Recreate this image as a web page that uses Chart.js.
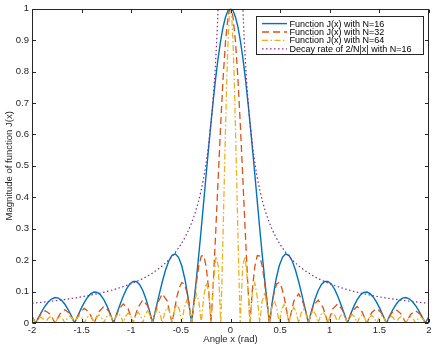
<!DOCTYPE html>
<html>
<head>
<meta charset="utf-8">
<script src="https://cdn.jsdelivr.net/npm/chart.js"></script>
<style>
  body { margin: 0; background: #fff; }
  #wrap { width: 436px; height: 347px; position: relative; }
</style>
</head>
<body>
<div id="wrap"><canvas id="myChart"></canvas></div>
<script>
// angles (rad) and magnitudes
const angles16 = [
  -2,
  -1.9635, -1.9308, -1.898, -1.8653, -1.8326, -1.7999, -1.7671, -1.7344, -1.7017, -1.669, -1.6362, -1.6035,
  -1.5708, -1.5381, -1.5053, -1.4726, -1.4399, -1.4072, -1.3744, -1.3417, -1.309, -1.2763, -1.2435, -1.2108,
  -1.1781, -1.1454, -1.1126, -1.0799, -1.0472, -1.0145, -0.9817, -0.949, -0.9163, -0.8836, -0.8508, -0.8181,
  -0.7854, -0.7527, -0.7199, -0.6872, -0.6545, -0.6218, -0.589, -0.5563, -0.5236, -0.4909, -0.4581, -0.4254,
  -0.3927, -0.375, -0.35, -0.325, -0.3, -0.275, -0.25, -0.225, -0.2, -0.175, -0.15, -0.125, -0.1, -0.075, -0.05, -0.025,
  0,
  0.025, 0.05, 0.075, 0.1, 0.125, 0.15, 0.175, 0.2, 0.225, 0.25, 0.275, 0.3, 0.325, 0.35, 0.375, 0.3927,
  0.4254, 0.4581, 0.4909, 0.5236, 0.5563, 0.589, 0.6218, 0.6545, 0.6872, 0.7199, 0.7527, 0.7854,
  0.8181, 0.8508, 0.8836, 0.9163, 0.949, 0.9817, 1.0145, 1.0472, 1.0799, 1.1126, 1.1454, 1.1781,
  1.2108, 1.2435, 1.2763, 1.309, 1.3417, 1.3744, 1.4072, 1.4399, 1.4726, 1.5053, 1.5381, 1.5708,
  1.6035, 1.6362, 1.669, 1.7017, 1.7344, 1.7671, 1.7999, 1.8326, 1.8653, 1.898, 1.9308, 1.9635,
  2
];
const mag16 = [
  0.0214,
  0, 0.0197, 0.0385, 0.055, 0.0682, 0.0771, 0.0809, 0.0792, 0.072, 0.0596, 0.0428, 0.0225,
  0, 0.0233, 0.0457, 0.0658, 0.0821, 0.0933, 0.0985, 0.0971, 0.0889, 0.0742, 0.0536, 0.0284,
  0, 0.0299, 0.0592, 0.086, 0.1083, 0.1243, 0.1325, 0.1321, 0.1224, 0.1034, 0.0757, 0.0407,
  0, 0.044, 0.0887, 0.1312, 0.1684, 0.1974, 0.2153, 0.2198, 0.2091, 0.1819, 0.1376, 0.0766,
  0, 0.0473, 0.1203, 0.1991, 0.2825, 0.3687, 0.4558, 0.5422, 0.6258, 0.7048, 0.7774, 0.8421, 0.8971, 0.9413, 0.9737, 0.9934,
  1,
  0.9934, 0.9737, 0.9413, 0.8971, 0.8421, 0.7774, 0.7048, 0.6258, 0.5422, 0.4558, 0.3687, 0.2825, 0.1991, 0.1203, 0.0473, 0,
  0.0766, 0.1376, 0.1819, 0.2091, 0.2198, 0.2153, 0.1974, 0.1684, 0.1312, 0.0887, 0.044, 0,
  0.0407, 0.0757, 0.1034, 0.1224, 0.1321, 0.1325, 0.1243, 0.1083, 0.086, 0.0592, 0.0299, 0,
  0.0284, 0.0536, 0.0742, 0.0889, 0.0971, 0.0985, 0.0933, 0.0821, 0.0658, 0.0457, 0.0233, 0,
  0.0225, 0.0428, 0.0596, 0.072, 0.0792, 0.0809, 0.0771, 0.0682, 0.055, 0.0385, 0.0197, 0,
  0.0214
];

const angles32 = [
  -2,
  -1.9635, -1.9144, -1.8653, -1.8162,
  -1.7671, -1.7181, -1.669, -1.6199,
  -1.5708, -1.5217, -1.4726, -1.4235,
  -1.3744, -1.3254, -1.2763, -1.2272,
  -1.1781, -1.129, -1.0799, -1.0308,
  -0.9817, -0.9327, -0.8836, -0.8345,
  -0.7854, -0.7363, -0.6872, -0.6381,
  -0.589, -0.5645, -0.54, -0.5154, -0.4909, -0.4663, -0.4418, -0.4172,
  -0.3927, -0.3681, -0.3436, -0.3191, -0.2945, -0.27, -0.2454, -0.2209,
  -0.1963, -0.175, -0.15, -0.125, -0.1, -0.075, -0.05, -0.025, -0.0125,
  0,
  0.0125, 0.025, 0.05, 0.075, 0.1, 0.125, 0.15, 0.175, 0.1963,
  0.2209, 0.2454, 0.27, 0.2945, 0.3191, 0.3436, 0.3681, 0.3927,
  0.4172, 0.4418, 0.4663, 0.4909, 0.5154, 0.54, 0.5645, 0.589,
  0.6381, 0.6872, 0.7363, 0.7854,
  0.8345, 0.8836, 0.9327, 0.9817,
  1.0308, 1.0799, 1.129, 1.1781,
  1.2272, 1.2763, 1.3254, 1.3744,
  1.4235, 1.4726, 1.5217, 1.5708,
  1.6199, 1.669, 1.7181, 1.7671,
  1.8162, 1.8653, 1.9144, 1.9635,
  2
];
const mag32 = [
  0.0205,
  0, 0.027, 0.0389, 0.028,
  0, 0.0292, 0.0422, 0.0305,
  0, 0.032, 0.0465, 0.0338,
  0, 0.0359, 0.0525, 0.0384,
  0, 0.0413, 0.0608, 0.0448,
  0, 0.0491, 0.0731, 0.0545,
  0, 0.0614, 0.0928, 0.0704,
  0, 0.0429, 0.0829, 0.1133, 0.1286, 0.125, 0.1008, 0.0577,
  0, 0.0653, 0.1292, 0.1818, 0.213, 0.2145, 0.1805, 0.1085,
  0, 0.1198, 0.2817, 0.4549, 0.625, 0.7769, 0.8969, 0.9735, 0.9934,
  1,
  0.9934, 0.9735, 0.8969, 0.7769, 0.625, 0.4549, 0.2817, 0.1198, 0,
  0.1085, 0.1805, 0.2145, 0.213, 0.1818, 0.1292, 0.0653, 0,
  0.0577, 0.1008, 0.125, 0.1286, 0.1133, 0.0829, 0.0429, 0,
  0.0704, 0.0928, 0.0614, 0,
  0.0545, 0.0731, 0.0491, 0,
  0.0448, 0.0608, 0.0413, 0,
  0.0384, 0.0525, 0.0359, 0,
  0.0338, 0.0465, 0.032, 0,
  0.0305, 0.0422, 0.0292, 0,
  0.028, 0.0389, 0.027, 0,
  0.0205
];

const angles64 = [
  -2,
  -1.9635, -1.939, -1.9144, -1.8899,
  -1.8653, -1.8408, -1.8162, -1.7917,
  -1.7671, -1.7426, -1.7181, -1.6935,
  -1.669, -1.6444, -1.6199, -1.5953,
  -1.5708, -1.5463, -1.5217, -1.4972,
  -1.4726, -1.4481, -1.4235, -1.399,
  -1.3744, -1.3499, -1.3254, -1.3008,
  -1.2763, -1.2517, -1.2272, -1.2026,
  -1.1781, -1.1536, -1.129, -1.1045,
  -1.0799, -1.0554, -1.0308, -1.0063,
  -0.9817, -0.9572, -0.9327, -0.9081,
  -0.8836, -0.859, -0.8345, -0.8099,
  -0.7854, -0.7608, -0.7363, -0.7117,
  -0.6872, -0.6627, -0.6381, -0.6136,
  -0.589, -0.5645, -0.5399, -0.5154,
  -0.4909, -0.4663, -0.4418, -0.4172,
  -0.3927, -0.3681, -0.3436, -0.3191,
  -0.2945, -0.27, -0.2454, -0.2209,
  -0.1963, -0.1718, -0.1473, -0.1227,
  -0.0982, -0.0875, -0.075, -0.0625, -0.05, -0.0375, -0.025, -0.0125,
  0,
  0.0125, 0.025, 0.0375, 0.05, 0.0625, 0.075, 0.0875, 0.0982,
  0.1227, 0.1473, 0.1718, 0.1963,
  0.2209, 0.2454, 0.27, 0.2945,
  0.3191, 0.3436, 0.3681, 0.3927,
  0.4172, 0.4418, 0.4663, 0.4909,
  0.5154, 0.5399, 0.5645, 0.589,
  0.6136, 0.6381, 0.6627, 0.6872,
  0.7117, 0.7363, 0.7608, 0.7854,
  0.8099, 0.8345, 0.859, 0.8836,
  0.9081, 0.9327, 0.9572, 0.9817,
  1.0063, 1.0308, 1.0554, 1.0799,
  1.1045, 1.129, 1.1536, 1.1781,
  1.2026, 1.2272, 1.2517, 1.2763,
  1.3008, 1.3254, 1.3499, 1.3744,
  1.399, 1.4235, 1.4481, 1.4726,
  1.4972, 1.5217, 1.5463, 1.5708,
  1.5953, 1.6199, 1.6444, 1.669,
  1.6935, 1.7181, 1.7426, 1.7671,
  1.7917, 1.8162, 1.8408, 1.8653,
  1.8899, 1.9144, 1.939, 1.9635,
  2
];
const mag64 = [
  0.0171,
  0, 0.0134, 0.0191, 0.0136,
  0, 0.0139, 0.0198, 0.0142,
  0, 0.0144, 0.0206, 0.0147,
  0, 0.0151, 0.0216, 0.0154,
  0, 0.0158, 0.0227, 0.0162,
  0, 0.0167, 0.0239, 0.0172,
  0, 0.0177, 0.0254, 0.0182,
  0, 0.0189, 0.0271, 0.0195,
  0, 0.0203, 0.0292, 0.0211,
  0, 0.0219, 0.0317, 0.0229,
  0, 0.024, 0.0348, 0.0252,
  0, 0.0265, 0.0386, 0.028,
  0, 0.0298, 0.0434, 0.0317,
  0, 0.034, 0.0498, 0.0366,
  0, 0.0397, 0.0586, 0.0433,
  0, 0.0478, 0.0713, 0.0533,
  0, 0.0604, 0.0914, 0.0695,
  0, 0.0821, 0.1277, 0.1002,
  0, 0.1288, 0.2124, 0.1802,
  0, 0.1196, 0.2814, 0.4546, 0.6247, 0.7767, 0.8967, 0.9735,
  1,
  0.9735, 0.8967, 0.7767, 0.6247, 0.4546, 0.2814, 0.1196, 0,
  0.1802, 0.2124, 0.1288, 0,
  0.1002, 0.1277, 0.0821, 0,
  0.0695, 0.0914, 0.0604, 0,
  0.0533, 0.0713, 0.0478, 0,
  0.0433, 0.0586, 0.0397, 0,
  0.0366, 0.0498, 0.034, 0,
  0.0317, 0.0434, 0.0298, 0,
  0.028, 0.0386, 0.0265, 0,
  0.0252, 0.0348, 0.024, 0,
  0.0229, 0.0317, 0.0219, 0,
  0.0211, 0.0292, 0.0203, 0,
  0.0195, 0.0271, 0.0189, 0,
  0.0182, 0.0254, 0.0177, 0,
  0.0172, 0.0239, 0.0167, 0,
  0.0162, 0.0227, 0.0158, 0,
  0.0154, 0.0216, 0.0151, 0,
  0.0147, 0.0206, 0.0144, 0,
  0.0142, 0.0198, 0.0139, 0,
  0.0136, 0.0191, 0.0134, 0,
  0.0171
];

// decay envelope, broken at x = 0
const anglesDecay = [
  -2, -1.8, -1.6, -1.4, -1.2, -1, -0.9, -0.8, -0.7, -0.6, -0.5, -0.45, -0.4, -0.35, -0.3, -0.25, -0.2, -0.175, -0.15, -0.125, -0.11, -0.1,
  0,
  0.1, 0.11, 0.125, 0.15, 0.175, 0.2, 0.25, 0.3, 0.35, 0.4, 0.45, 0.5, 0.6, 0.7, 0.8, 0.9, 1, 1.2, 1.4, 1.6, 1.8, 2
];
const magDecay = [
  0.0625, 0.0694, 0.0781, 0.0893, 0.1042, 0.125, 0.1389, 0.1563, 0.1786, 0.2083, 0.25, 0.2778, 0.3125, 0.3571, 0.4167, 0.5, 0.625, 0.7143, 0.8333, 1, 1.1364, 1.25,
  null,
  1.25, 1.1364, 1, 0.8333, 0.7143, 0.625, 0.5, 0.4167, 0.3571, 0.3125, 0.2778, 0.25, 0.2083, 0.1786, 0.1563, 0.1389, 0.125, 0.1042, 0.0893, 0.0781, 0.0694, 0.0625
];

const seriesNames = [
  'Function J(x) with N=16',
  'Function J(x) with N=32',
  'Function J(x) with N=64',
  'Decay rate of 2/N|x| with N=16'
];
const colors = ['#0072BD', '#D95319', '#EDB120', '#7E2F8E'];
const dashes = [[], [7, 4], [6, 2.5, 1.5, 2.5], [1.5, 2.5]];
const widths = [1.4, 1.3, 1.3, 1.2];

const axisColor = '#262626';
const fontFam = '"Liberation Sans", Arial, Helvetica, sans-serif';

function pts(xs, ys) {
  return xs.map((x, i) => ({ x: x, y: ys[i] }));
}

// MATLAB style tick labels: 0, 0.5, 1 ... no trailing zeros
function tickLabel(v) {
  return String(+v.toFixed(2));
}

// box round the axes with inward ticks, plus legend
const boxPlugin = {
  id: 'boxPlugin',
  afterDatasetsDraw(chart) {
    const ctx = chart.ctx;
    const a = chart.chartArea;
    const xs = chart.scales.x, ys = chart.scales.y;
    const L = Math.round(a.left) + 0.5, R = Math.round(a.right) - 0.5;
    const T = Math.round(a.top) + 0.5, B = Math.round(a.bottom) - 0.5;
    ctx.save();
    ctx.strokeStyle = axisColor;
    ctx.lineWidth = 1;
    ctx.setLineDash([]);
    ctx.strokeRect(L, T, R - L, B - T);
    const tl = 3.5;
    ctx.beginPath();
    xs.ticks.forEach(t => {
      const px = Math.round(xs.getPixelForValue(t.value)) + 0.5;
      ctx.moveTo(px, B); ctx.lineTo(px, B - tl);
      ctx.moveTo(px, T); ctx.lineTo(px, T + tl);
    });
    ys.ticks.forEach(t => {
      const py = Math.round(ys.getPixelForValue(t.value)) + 0.5;
      ctx.moveTo(L, py); ctx.lineTo(L + tl, py);
      ctx.moveTo(R, py); ctx.lineTo(R - tl, py);
    });
    ctx.stroke();

    // legend
    const lx = 256.5, ly = 16.5, lw = 167, lh = 38;
    ctx.fillStyle = '#fff';
    ctx.fillRect(lx, ly, lw, lh);
    ctx.strokeStyle = axisColor;
    ctx.strokeRect(lx, ly, lw, lh);
    ctx.font = '9px ' + fontFam;
    ctx.textBaseline = 'middle';
    ctx.textAlign = 'left';
    seriesNames.forEach((name, i) => {
      const y = 23.6 + i * 8.4;
      ctx.beginPath();
      ctx.strokeStyle = colors[i];
      ctx.lineWidth = widths[i];
      ctx.setLineDash(dashes[i]);
      ctx.moveTo(262, y);
      ctx.lineTo(287, y);
      ctx.stroke();
      ctx.setLineDash([]);
      ctx.fillStyle = '#000';
      ctx.fillText(name, 289.5, y + 0.5);
    });
    ctx.restore();
  }
};

const datasets = [
  pts(angles16, mag16),
  pts(angles32, mag32),
  pts(angles64, mag64),
  pts(anglesDecay, magDecay)
].map((d, i) => ({
  label: seriesNames[i],
  data: d,
  borderColor: colors[i],
  borderWidth: widths[i],
  borderDash: dashes[i],
  pointRadius: 0,
  fill: false,
  tension: 0,
  cubicInterpolationMode: i === 3 ? 'monotone' : 'default',
  spanGaps: false,
  order: 4 - i
}));

new Chart(document.getElementById('myChart'), {
  type: 'line',
  data: { datasets: datasets },
  options: {
    responsive: true,
    maintainAspectRatio: false,
    animation: false,
    devicePixelRatio: 1,
    layout: { padding: { top: 8, right: 7, left: 0, bottom: 0 } },
    plugins: {
      legend: { display: false },
      tooltip: { enabled: false }
    },
    scales: {
      x: {
        type: 'linear',
        min: -2,
        max: 2,
        grid: { display: false, drawTicks: false },
        border: { display: false },
        ticks: {
          stepSize: 0.5,
          autoSkip: false,
          maxRotation: 0,
          padding: 2,
          color: axisColor,
          font: { family: fontFam, size: 9.5 },
          callback: tickLabel
        },
        title: {
          display: true,
          text: 'Angle x (rad)',
          color: axisColor,
          font: { family: fontFam, size: 9.5 },
          padding: { top: 0, bottom: 2 }
        },
        afterFit(scale) { scale.height = 24; }
      },
      y: {
        min: 0,
        max: 1,
        grid: { display: false, drawTicks: false },
        border: { display: false },
        ticks: {
          stepSize: 0.1,
          autoSkip: false,
          padding: 3,
          color: axisColor,
          font: { family: fontFam, size: 9.5 },
          callback: tickLabel
        },
        title: {
          display: true,
          text: 'Magnitude of function J(x)',
          color: axisColor,
          font: { family: fontFam, size: 9.5 },
          padding: { top: 4, bottom: 0 }
        },
        afterFit(scale) { scale.width = 32; }
      }
    }
  },
  plugins: [boxPlugin]
});
</script>
</body>
</html>
